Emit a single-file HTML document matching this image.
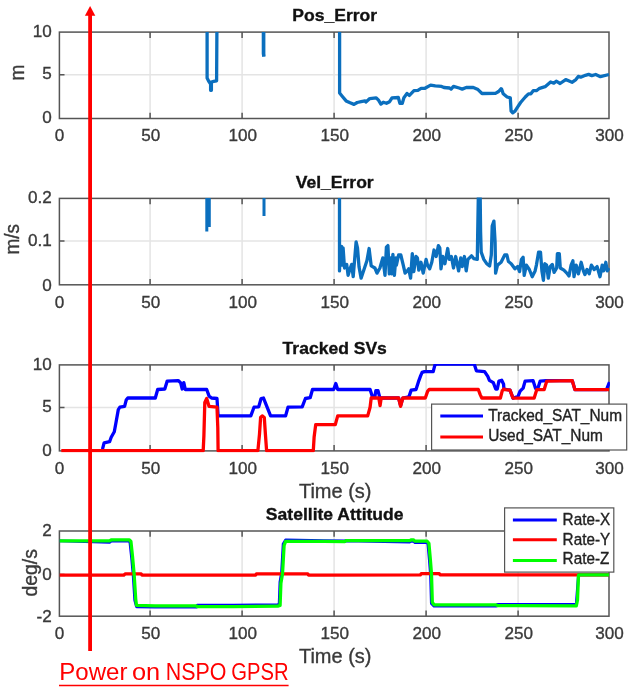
<!DOCTYPE html>
<html lang="en"><head><meta charset="utf-8"><title>GPSR plots</title>
<style>html,body{margin:0;padding:0;background:#fff}body{width:632px;height:692px;overflow:hidden}svg{display:block}</style>
</head><body>
<svg width="632" height="692" viewBox="0 0 632 692" font-family="'Liberation Sans', Arial, Helvetica, sans-serif">
<rect width="632" height="692" fill="#fff"/>
<defs>
<clipPath id="c0"><rect x="58.699999999999996" y="31.3" width="551.2" height="88.8"/></clipPath>
<clipPath id="c1"><rect x="58.699999999999996" y="197.6" width="551.2" height="88.8"/></clipPath>
<clipPath id="c2"><rect x="58.699999999999996" y="364.09999999999997" width="551.2" height="88.4"/></clipPath>
<clipPath id="c3"><rect x="58.699999999999996" y="530.2" width="551.2" height="87.6"/></clipPath>
</defs>
<line x1="150.1" y1="32.1" x2="150.1" y2="118.5" stroke="#e4e4e4" stroke-width="1.5"/>
<line x1="242.1" y1="32.1" x2="242.1" y2="118.5" stroke="#e4e4e4" stroke-width="1.5"/>
<line x1="334.1" y1="32.1" x2="334.1" y2="118.5" stroke="#e4e4e4" stroke-width="1.5"/>
<line x1="426.1" y1="32.1" x2="426.1" y2="118.5" stroke="#e4e4e4" stroke-width="1.5"/>
<line x1="518.1" y1="32.1" x2="518.1" y2="118.5" stroke="#e4e4e4" stroke-width="1.5"/>
<line x1="59.4" y1="74.8" x2="609.05" y2="74.8" stroke="#e4e4e4" stroke-width="1.5"/>
<line x1="150.1" y1="198.4" x2="150.1" y2="284.8" stroke="#e4e4e4" stroke-width="1.5"/>
<line x1="242.1" y1="198.4" x2="242.1" y2="284.8" stroke="#e4e4e4" stroke-width="1.5"/>
<line x1="334.1" y1="198.4" x2="334.1" y2="284.8" stroke="#e4e4e4" stroke-width="1.5"/>
<line x1="426.1" y1="198.4" x2="426.1" y2="284.8" stroke="#e4e4e4" stroke-width="1.5"/>
<line x1="518.1" y1="198.4" x2="518.1" y2="284.8" stroke="#e4e4e4" stroke-width="1.5"/>
<line x1="59.4" y1="241.1" x2="609.05" y2="241.1" stroke="#e4e4e4" stroke-width="1.5"/>
<line x1="150.1" y1="364.9" x2="150.1" y2="450.9" stroke="#e4e4e4" stroke-width="1.5"/>
<line x1="242.1" y1="364.9" x2="242.1" y2="450.9" stroke="#e4e4e4" stroke-width="1.5"/>
<line x1="334.1" y1="364.9" x2="334.1" y2="450.9" stroke="#e4e4e4" stroke-width="1.5"/>
<line x1="426.1" y1="364.9" x2="426.1" y2="450.9" stroke="#e4e4e4" stroke-width="1.5"/>
<line x1="518.1" y1="364.9" x2="518.1" y2="450.9" stroke="#e4e4e4" stroke-width="1.5"/>
<line x1="59.4" y1="407.4" x2="609.05" y2="407.4" stroke="#e4e4e4" stroke-width="1.5"/>
<line x1="150.1" y1="531.0" x2="150.1" y2="616.2" stroke="#e4e4e4" stroke-width="1.5"/>
<line x1="242.1" y1="531.0" x2="242.1" y2="616.2" stroke="#e4e4e4" stroke-width="1.5"/>
<line x1="334.1" y1="531.0" x2="334.1" y2="616.2" stroke="#e4e4e4" stroke-width="1.5"/>
<line x1="426.1" y1="531.0" x2="426.1" y2="616.2" stroke="#e4e4e4" stroke-width="1.5"/>
<line x1="518.1" y1="531.0" x2="518.1" y2="616.2" stroke="#e4e4e4" stroke-width="1.5"/>
<line x1="59.4" y1="574.5" x2="609.05" y2="574.5" stroke="#e4e4e4" stroke-width="1.5"/>
<rect x="59.4" y="32.1" width="549.6" height="86.4" fill="none" stroke="#555" stroke-width="1.5"/>
<path d="M150.1,118.5 v-5.8 M150.1,32.1 v5.8 M242.1,118.5 v-5.8 M242.1,32.1 v5.8 M334.1,118.5 v-5.8 M334.1,32.1 v5.8 M426.1,118.5 v-5.8 M426.1,32.1 v5.8 M518.1,118.5 v-5.8 M518.1,32.1 v5.8 M59.4,74.8 h5.1 M609.05,74.8 h-5.1" stroke="#555" stroke-width="1.5" fill="none"/>
<text transform="translate(59.4,141.4) scale(1.0,1)" font-size="17.1" fill="#3a3a3a" stroke="#3a3a3a" stroke-width="0.35" text-anchor="middle">0</text>
<text transform="translate(150.7,141.4) scale(1.0,1)" font-size="17.1" fill="#3a3a3a" stroke="#3a3a3a" stroke-width="0.35" text-anchor="middle">50</text>
<text transform="translate(242.7,141.4) scale(1.0,1)" font-size="17.1" fill="#3a3a3a" stroke="#3a3a3a" stroke-width="0.35" text-anchor="middle">100</text>
<text transform="translate(334.7,141.4) scale(1.0,1)" font-size="17.1" fill="#3a3a3a" stroke="#3a3a3a" stroke-width="0.35" text-anchor="middle">150</text>
<text transform="translate(426.7,141.4) scale(1.0,1)" font-size="17.1" fill="#3a3a3a" stroke="#3a3a3a" stroke-width="0.35" text-anchor="middle">200</text>
<text transform="translate(518.7,141.4) scale(1.0,1)" font-size="17.1" fill="#3a3a3a" stroke="#3a3a3a" stroke-width="0.35" text-anchor="middle">250</text>
<text transform="translate(609.6,141.4) scale(1.0,1)" font-size="17.1" fill="#3a3a3a" stroke="#3a3a3a" stroke-width="0.35" text-anchor="middle">300</text>
<text transform="translate(51.8,37.0) scale(1.0,1)" font-size="17.1" fill="#3a3a3a" stroke="#3a3a3a" stroke-width="0.35" text-anchor="end">10</text>
<text transform="translate(51.8,79.3) scale(1.0,1)" font-size="17.1" fill="#3a3a3a" stroke="#3a3a3a" stroke-width="0.35" text-anchor="end">5</text>
<text transform="translate(51.8,123.4) scale(1.0,1)" font-size="17.1" fill="#3a3a3a" stroke="#3a3a3a" stroke-width="0.35" text-anchor="end">0</text>
<text transform="translate(334.7,21.2) scale(1.02,1)" font-size="17.2" fill="#111" stroke="#111" stroke-width="0.35" text-anchor="middle" font-weight="bold">Pos_Error</text>
<rect x="59.4" y="198.4" width="549.6" height="86.4" fill="none" stroke="#555" stroke-width="1.5"/>
<path d="M150.1,284.8 v-5.8 M150.1,198.4 v5.8 M242.1,284.8 v-5.8 M242.1,198.4 v5.8 M334.1,284.8 v-5.8 M334.1,198.4 v5.8 M426.1,284.8 v-5.8 M426.1,198.4 v5.8 M518.1,284.8 v-5.8 M518.1,198.4 v5.8 M59.4,241.1 h5.1 M609.05,241.1 h-5.1" stroke="#555" stroke-width="1.5" fill="none"/>
<text transform="translate(59.4,307.7) scale(1.0,1)" font-size="17.1" fill="#3a3a3a" stroke="#3a3a3a" stroke-width="0.35" text-anchor="middle">0</text>
<text transform="translate(150.7,307.7) scale(1.0,1)" font-size="17.1" fill="#3a3a3a" stroke="#3a3a3a" stroke-width="0.35" text-anchor="middle">50</text>
<text transform="translate(242.7,307.7) scale(1.0,1)" font-size="17.1" fill="#3a3a3a" stroke="#3a3a3a" stroke-width="0.35" text-anchor="middle">100</text>
<text transform="translate(334.7,307.7) scale(1.0,1)" font-size="17.1" fill="#3a3a3a" stroke="#3a3a3a" stroke-width="0.35" text-anchor="middle">150</text>
<text transform="translate(426.7,307.7) scale(1.0,1)" font-size="17.1" fill="#3a3a3a" stroke="#3a3a3a" stroke-width="0.35" text-anchor="middle">200</text>
<text transform="translate(518.7,307.7) scale(1.0,1)" font-size="17.1" fill="#3a3a3a" stroke="#3a3a3a" stroke-width="0.35" text-anchor="middle">250</text>
<text transform="translate(609.6,307.7) scale(1.0,1)" font-size="17.1" fill="#3a3a3a" stroke="#3a3a3a" stroke-width="0.35" text-anchor="middle">300</text>
<text transform="translate(51.8,203.3) scale(1.0,1)" font-size="17.1" fill="#3a3a3a" stroke="#3a3a3a" stroke-width="0.35" text-anchor="end">0.2</text>
<text transform="translate(51.8,246.1) scale(1.0,1)" font-size="17.1" fill="#3a3a3a" stroke="#3a3a3a" stroke-width="0.35" text-anchor="end">0.1</text>
<text transform="translate(51.8,290.7) scale(1.0,1)" font-size="17.1" fill="#3a3a3a" stroke="#3a3a3a" stroke-width="0.35" text-anchor="end">0</text>
<text transform="translate(334.7,187.5) scale(1.02,1)" font-size="17.2" fill="#111" stroke="#111" stroke-width="0.35" text-anchor="middle" font-weight="bold">Vel_Error</text>
<rect x="59.4" y="364.9" width="549.6" height="86.0" fill="none" stroke="#555" stroke-width="1.5"/>
<path d="M150.1,450.9 v-5.8 M150.1,364.9 v5.8 M242.1,450.9 v-5.8 M242.1,364.9 v5.8 M334.1,450.9 v-5.8 M334.1,364.9 v5.8 M426.1,450.9 v-5.8 M426.1,364.9 v5.8 M518.1,450.9 v-5.8 M518.1,364.9 v5.8 M59.4,407.4 h5.1 M609.05,407.4 h-5.1" stroke="#555" stroke-width="1.5" fill="none"/>
<text transform="translate(59.4,473.8) scale(1.0,1)" font-size="17.1" fill="#3a3a3a" stroke="#3a3a3a" stroke-width="0.35" text-anchor="middle">0</text>
<text transform="translate(150.7,473.8) scale(1.0,1)" font-size="17.1" fill="#3a3a3a" stroke="#3a3a3a" stroke-width="0.35" text-anchor="middle">50</text>
<text transform="translate(242.7,473.8) scale(1.0,1)" font-size="17.1" fill="#3a3a3a" stroke="#3a3a3a" stroke-width="0.35" text-anchor="middle">100</text>
<text transform="translate(334.7,473.8) scale(1.0,1)" font-size="17.1" fill="#3a3a3a" stroke="#3a3a3a" stroke-width="0.35" text-anchor="middle">150</text>
<text transform="translate(426.7,473.8) scale(1.0,1)" font-size="17.1" fill="#3a3a3a" stroke="#3a3a3a" stroke-width="0.35" text-anchor="middle">200</text>
<text transform="translate(518.7,473.8) scale(1.0,1)" font-size="17.1" fill="#3a3a3a" stroke="#3a3a3a" stroke-width="0.35" text-anchor="middle">250</text>
<text transform="translate(609.6,473.8) scale(1.0,1)" font-size="17.1" fill="#3a3a3a" stroke="#3a3a3a" stroke-width="0.35" text-anchor="middle">300</text>
<text transform="translate(51.8,369.8) scale(1.0,1)" font-size="17.1" fill="#3a3a3a" stroke="#3a3a3a" stroke-width="0.35" text-anchor="end">10</text>
<text transform="translate(51.8,412.2) scale(1.0,1)" font-size="17.1" fill="#3a3a3a" stroke="#3a3a3a" stroke-width="0.35" text-anchor="end">5</text>
<text transform="translate(51.8,456.1) scale(1.0,1)" font-size="17.1" fill="#3a3a3a" stroke="#3a3a3a" stroke-width="0.35" text-anchor="end">0</text>
<text transform="translate(334.7,354.0) scale(1.02,1)" font-size="17.2" fill="#111" stroke="#111" stroke-width="0.35" text-anchor="middle" font-weight="bold">Tracked SVs</text>
<rect x="59.4" y="531.0" width="549.6" height="85.2" fill="none" stroke="#555" stroke-width="1.5"/>
<path d="M150.1,616.2 v-5.8 M150.1,531.0 v5.8 M242.1,616.2 v-5.8 M242.1,531.0 v5.8 M334.1,616.2 v-5.8 M334.1,531.0 v5.8 M426.1,616.2 v-5.8 M426.1,531.0 v5.8 M518.1,616.2 v-5.8 M518.1,531.0 v5.8 M59.4,574.5 h5.1 M609.05,574.5 h-5.1" stroke="#555" stroke-width="1.5" fill="none"/>
<text transform="translate(59.4,639.1) scale(1.0,1)" font-size="17.1" fill="#3a3a3a" stroke="#3a3a3a" stroke-width="0.35" text-anchor="middle">0</text>
<text transform="translate(150.7,639.1) scale(1.0,1)" font-size="17.1" fill="#3a3a3a" stroke="#3a3a3a" stroke-width="0.35" text-anchor="middle">50</text>
<text transform="translate(242.7,639.1) scale(1.0,1)" font-size="17.1" fill="#3a3a3a" stroke="#3a3a3a" stroke-width="0.35" text-anchor="middle">100</text>
<text transform="translate(334.7,639.1) scale(1.0,1)" font-size="17.1" fill="#3a3a3a" stroke="#3a3a3a" stroke-width="0.35" text-anchor="middle">150</text>
<text transform="translate(426.7,639.1) scale(1.0,1)" font-size="17.1" fill="#3a3a3a" stroke="#3a3a3a" stroke-width="0.35" text-anchor="middle">200</text>
<text transform="translate(518.7,639.1) scale(1.0,1)" font-size="17.1" fill="#3a3a3a" stroke="#3a3a3a" stroke-width="0.35" text-anchor="middle">250</text>
<text transform="translate(609.6,639.1) scale(1.0,1)" font-size="17.1" fill="#3a3a3a" stroke="#3a3a3a" stroke-width="0.35" text-anchor="middle">300</text>
<text transform="translate(51.8,535.9) scale(1.0,1)" font-size="17.1" fill="#3a3a3a" stroke="#3a3a3a" stroke-width="0.35" text-anchor="end">2</text>
<text transform="translate(51.8,580.0) scale(1.0,1)" font-size="17.1" fill="#3a3a3a" stroke="#3a3a3a" stroke-width="0.35" text-anchor="end">0</text>
<text transform="translate(51.8,622.4) scale(1.0,1)" font-size="17.1" fill="#3a3a3a" stroke="#3a3a3a" stroke-width="0.35" text-anchor="end">-2</text>
<text transform="translate(334.7,520.1) scale(1.02,1)" font-size="17.2" fill="#111" stroke="#111" stroke-width="0.35" text-anchor="middle" font-weight="bold">Satellite Attitude</text>
<g clip-path="url(#c0)" fill="none" stroke-linejoin="round">
<path d="M207.1,32 L207.1,78 L208.6,81 L210.6,84 L210.6,90.3 L211.4,90.3 L211.4,82 L213.7,81.4 L216.6,80.8 L216.9,32" stroke="#0b6fbe" stroke-width="3.3"/>
<path d="M263.35,32 L263.35,53.5 L263.75,56.4" stroke="#0b6fbe" stroke-width="3.3"/>
<path d="M263.75,32 L263.75,56.4" stroke="#0b6fbe" stroke-width="3.3"/>
<path d="M339.6,32.1 L339.6,93 L342.2,96.2 L346.1,100.9 L350.1,102.8 L354,104.4 L357.2,102.5 L361.1,101.7 L365.1,100.9 L365.9,102.1 L369.8,98.6 L376.2,97.8 L378.5,100.2 L380.9,104.1 L383.3,102.2 L386.5,103.3 L389.6,101.7 L392,97.8 L398.3,97.5 L399.9,103.3 L402.3,103.3 L403.9,97.8 L407,93.4 L409.4,95.4 L414,90.7 L417.9,90.3 L421.1,88.3 L425,88.3 L430.6,85.1 L435.3,85.9 L441.6,86.4 L444,87.5 L449.6,88 L451.1,89.1 L453.5,86.4 L459.1,88 L462.2,89.1 L466.2,87.5 L473.3,87.5 L478,89.6 L482,93.5 L495.4,93.4 L498.6,91.5 L501,88.8 L501.6,89.1 L503.2,93.8 L507.1,97 L510.3,97.8 L511.1,111.2 L512.7,112.8 L515,111.2 L517.4,107.3 L520.6,102.5 L525.3,97 L528.5,93.8 L530.9,93.8 L533.2,90.7 L536.4,90.7 L539.6,88.3 L545.1,86.7 L550.6,82 L553.8,83.2 L556.2,81.2 L560.1,83.5 L565.7,79.6 L572,82.3 L575.9,79.6 L578.3,76.4 L580.7,77.2 L585.4,75.3 L588.6,74.4 L591.8,75.6 L595.7,74.5 L600.4,76.7 L609,74.5" stroke="#0b6fbe" stroke-width="3.3"/>
</g>
<g clip-path="url(#c1)" fill="none" stroke-linejoin="round">
<path d="M206.8,198 L206.8,231.5" stroke="#0b6fbe" stroke-width="3"/>
<path d="M209.3,198 L209.3,227" stroke="#0b6fbe" stroke-width="3"/>
<path d="M264,198 L264,216" stroke="#0b6fbe" stroke-width="3"/>
<path d="M339.5,197.9 L339.5,270.9 L340.2,247.8 L341.6,246.4 L342.3,265.1 L343.1,247.8 L344.5,268 L346.7,264.4 L348.1,275.3 L350.3,268 L351.7,264.4 L353.2,276.7 L356.1,242 L357.5,247.8 L359,266.6 L361.1,278.2 L364,269.5 L366.9,260.8 L369.1,248.5 L371.2,265.9 L374.9,268 L377,273.1 L379.9,268 L382.8,257.9 L385,275.3 L386.4,247.1 L387.9,245.6 L389.3,273.8 L390.8,257.9 L391.8,273.8 L392.9,254.3 L394.4,275.3 L395.8,257.9 L396.4,265.1 L398.6,255 L400.8,255 L402.9,263.7 L405.1,273.1 L407.3,270.9 L408.7,268.8 L410.6,278.2 L412.3,253.6 L413.8,271.6 L416,256.5 L417.4,257.9 L418.8,270.2 L421,262.3 L423.2,273.1 L426.1,259.4 L427.5,265.1 L429.7,268.8 L431.8,262.3 L434,250 L436.2,256.5 L438.4,245.6 L439.8,247.8 L441,268.8 L442.7,256.5 L444.9,263.7 L447.7,248.5 L449.2,259.4 L451.4,256.5 L453.5,268 L455.7,256.5 L458.6,270.9 L460.8,257.9 L462.2,266.6 L464.4,256.5 L466.2,270.9 L467.9,259.4 L471.5,255.8 L473.7,258.6 L477.3,259.4 L477.7,233.4 L478.3,197.9 L480.2,197.9 L480.6,231.9 L481.2,252.1 L483.8,259.4 L486.7,263.7 L489.6,265.9 L491.3,255 L492.2,226.1 L493.9,221.1 L495.1,242 L495.6,273.1 L497.5,265.1 L501.1,262.3 L504.7,255 L506.9,255 L508.4,261.5 L511.2,263.7 L514.9,268.8 L517.7,266.6 L519.6,271.6 L521.4,259.4 L523.1,257.2 L524.2,275.3 L526.4,265.1 L529.3,269.5 L532.2,276.7 L535.1,270.9 L536.4,265.1 L538.6,252.1 L540.5,252.1 L541.9,270.9 L543.4,280.3 L544.8,263.7 L546.6,265.1 L548.3,278.2 L550.2,266.6 L552.3,264.4 L554.1,272.4 L556.7,268 L557.4,253.6 L559.3,253.6 L560.3,268 L563.9,270.2 L566.8,273.1 L569,276 L571.1,265.1 L572.9,260.8 L574,276.7 L576.2,265.1 L578.4,273.8 L581.2,262.3 L583.4,270.9 L584.9,274.5 L587,269.5 L589.2,273.8 L591.4,265.1 L594.2,269.5 L597.1,266.6 L600,276.7 L602.2,265.1 L603.6,270.9 L605.8,262.3 L607.3,270.9 L609.1,268" stroke="#0b6fbe" stroke-width="3.3"/>
</g>
<g clip-path="url(#c2)" fill="none" stroke-linejoin="round">
<path d="M102.5,449.1 L104.1,442.8 L109.6,441.7 L111.2,437.3 L114.3,431.7 L115.9,423 L118.3,409.6 L119.9,407.2 L124.6,406.4 L126.2,400.1 L127.8,398 L155,398 L155.3,398 L157.7,389.5 L164.8,389 L167.2,381.1 L178.2,380.6 L180.6,382.7 L182.2,389 L183.8,382.7 L185.3,389.5 L206.7,389.5 L209.1,396.1 L211.5,398 L217,398.5 L218.1,415.9 L245,415.9 L250.8,415.9 L254,407.2 L258.7,406.9 L261.1,398.5 L263.5,398 L265.9,404.1 L270.6,415.9 L285.6,415.9 L288,407.2 L302.2,406.9 L305.4,398.5 L310.2,397.7 L312.5,389.5 L323.6,389.3 L333.7,389.5 L335.8,383.5 L337.7,389.5 L370.1,389.5 L372.5,396.9 L374.8,396.9 L375.9,390.6 L378,390.6 L379.6,396.9 L380.4,398 L398.6,398 L400.6,405.6 L402.8,398 L408.9,396.9 L411.2,390.1 L416,389.5 L418.4,381.9 L420.7,375.6 L422.1,372.4 L424.5,371.6 L433.2,371.6 L434.8,365.3 L436.4,364.2 L474.3,364.2 L476.4,370.8 L484.6,371.6 L487.8,376.4 L489.4,380.3 L493.3,382.7 L495.7,389 L497.3,389 L498.9,381.1 L501.7,380.3 L503.6,384.3 L503.9,389 L510,390.2 L513,398.2 L518.1,396.2 L520.1,391.2 L523.1,388.2 L525.1,381.1 L533.1,380.7 L535.5,388.2 L538.2,387.2 L540.2,381.1 L546.2,380.7 L572.3,380.7 L574.9,389.6 L606.5,389.6 L607.5,387.2 L609.5,382.1" stroke="#0000ff" stroke-width="3.3"/>
<path d="M61.3,450.6 L203.2,450.7 L203.9,435.7 L204.8,402.5 L206.7,398.5 L209.1,406.4 L217,407.2 L217.8,427.8 L218.1,450.7 L257.9,450.7 L259.5,434.1 L260.6,417.5 L262.2,415.9 L264.3,417.5 L265.4,434.1 L266.6,450.7 L313.3,450.7 L314.1,437.3 L315.7,424.6 L323.6,424.6 L335.3,424.6 L337.7,415.9 L367.7,415.9 L370.1,407.2 L371.2,398 L378.8,398 L380.1,405.6 L381.2,398 L398.6,398 L400.6,406.4 L402.8,398 L413.6,398 L425.3,398 L427.7,391.1 L429.2,389.5 L478.3,389.5 L480.2,394.6 L481.8,398 L500.4,398 L502.3,390.6 L503.9,389 L505,389.6 L510,390.2 L513,398.2 L534.1,398.2 L536.8,389.6 L544.2,389.6 L546.8,381.1 L572.3,380.7 L574.9,389.6 L609.1,389.6" stroke="#ff0000" stroke-width="3.3"/>
</g>
<g clip-path="url(#c3)" fill="none" stroke-linejoin="round">
<path d="M59.7,540.9 L109.6,542.2 L111.2,541.1 L129.4,541.1 L130,542.7 L131.6,557.7 L133.2,575.1 L134.8,600.4 L136.5,606.7 L155,607.1 L196.4,607.1 L197.2,605.3 L233.6,605.3 L277.7,604.8 L279.2,604 L280,581.9 L281.6,572.4 L283.2,543.9 L285.6,540 L323.6,540.8 L344.9,541 L345.8,540.7 L409.9,542 L410.8,541.2 L413.4,541.2 L415,542.5 L427.1,542.5 L428,544.5 L429.4,560.1 L430.6,575.7 L431.4,603.5 L434.1,606.1 L496.5,606.1 L497.3,604.4 L515,604.4 L576.3,604.5 L576.6,600 L578.5,574.8 L609,574.8" stroke="#0000ff" stroke-width="2.9"/>
<path d="M59.7,575.1 L123.8,575.1 L125.4,573.8 L141.2,573.8 L142,575.1 L155,575.1 L255.6,575.1 L256.4,573.8 L307.8,573.8 L308.6,575.1 L323.6,575.1 L420.3,574.9 L421.2,573.7 L421.9,573.7 L439.3,573.7 L440.1,574.9 L515,574.9 L609,574.9" stroke="#ff0000" stroke-width="3.3"/>
<path d="M59.7,540.9 L109.6,540.9 L111.2,539.8 L129.4,539.8 L130.9,541.4 L132.5,556.4 L134.1,573.8 L135.7,599.1 L136.5,605.4 L155,605.8 L196.4,605.8 L197.2,606.7 L233.6,606.7 L277.7,606.2 L280.1,605.4 L280.9,583.3 L282.5,573.8 L284.1,545.3 L285.6,541.4 L323.6,541.4 L344.9,541.6 L345.8,540.7 L409.9,540.7 L410.8,539.9 L413.4,539.9 L415,541.2 L427.1,541.2 L428.9,543.3 L430.3,558.9 L431.5,574.5 L432.3,602.3 L434.1,604.9 L496.5,604.9 L497.3,605.7 L515,605.7 L576.3,605.8 L577.5,600 L578.5,574.8 L609,574.8" stroke="#00ff00" stroke-width="3.3"/>
</g>
<text transform="translate(335.2,497.7) scale(1.0,1)" font-size="20" fill="#3a3a3a" stroke="#3a3a3a" stroke-width="0.35" text-anchor="middle">Time (s)</text>
<text transform="translate(335.2,663.0) scale(1.0,1)" font-size="20" fill="#3a3a3a" stroke="#3a3a3a" stroke-width="0.35" text-anchor="middle">Time (s)</text>
<text transform="translate(24.0,72.6) rotate(-90) scale(1,1.06)" font-size="19" fill="#3a3a3a" stroke="#3a3a3a" stroke-width="0.35" text-anchor="middle">m</text>
<text transform="translate(19.2,239.3) rotate(-90) scale(1,1.06)" font-size="19" fill="#3a3a3a" stroke="#3a3a3a" stroke-width="0.35" text-anchor="middle">m/s</text>
<text transform="translate(37.1,572.8) rotate(-90) scale(1,1.06)" font-size="19.4" fill="#3a3a3a" stroke="#3a3a3a" stroke-width="0.35" text-anchor="middle">deg/s</text>
<rect x="431.6" y="404.1" width="195.1" height="45.9" fill="#fff" stroke="#555" stroke-width="1.2"/>
<path d="M440.3,415.9 H483" stroke="#0000ff" stroke-width="3"/>
<path d="M440.3,437 H483" stroke="#ff0000" stroke-width="3"/>
<text transform="translate(488.2,420.6) scale(0.99,1)" font-size="15.6" fill="#222" stroke="#222" stroke-width="0.35" text-anchor="start">Tracked_SAT_Num</text>
<text transform="translate(488.2,440.6) scale(0.99,1)" font-size="15.6" fill="#222" stroke="#222" stroke-width="0.35" text-anchor="start">Used_SAT_Num</text>
<rect x="504.6" y="507.9" width="109.2" height="64.2" fill="#fff" stroke="#555" stroke-width="1.2"/>
<path d="M512.9,520.1 H556.8" stroke="#0000ff" stroke-width="3"/>
<text transform="translate(562.6,524.8) scale(0.98,1)" font-size="15.6" fill="#222" stroke="#222" stroke-width="0.35" text-anchor="start">Rate-X</text>
<path d="M512.9,539.8 H556.8" stroke="#ff0000" stroke-width="3"/>
<text transform="translate(562.6,544.5) scale(0.98,1)" font-size="15.6" fill="#222" stroke="#222" stroke-width="0.35" text-anchor="start">Rate-Y</text>
<path d="M512.9,560.4 H556.8" stroke="#00ff00" stroke-width="3"/>
<text transform="translate(562.6,564.0) scale(0.98,1)" font-size="15.6" fill="#222" stroke="#222" stroke-width="0.35" text-anchor="start">Rate-Z</text>
<path d="M90.1,651 V15" stroke="#ff0000" stroke-width="3.8" fill="none"/>
<path d="M90.1,6.0 L95.3,15.8 H84.9 Z" fill="#ff0000"/>
<text y="679.6" font-size="23.5" fill="#ff0000"><tspan x="59.3" textLength="68.1" lengthAdjust="spacingAndGlyphs">Power</tspan> <tspan x="131.9" textLength="28.2" lengthAdjust="spacingAndGlyphs">on</tspan> <tspan x="165.8" textLength="60.6" lengthAdjust="spacingAndGlyphs">NSPO</tspan> <tspan x="231.2" textLength="57.3" lengthAdjust="spacingAndGlyphs">GPSR</tspan></text>
<path d="M59,685.5 H288.6" stroke="#ff0000" stroke-width="1.6"/>
</svg>
</body></html>
